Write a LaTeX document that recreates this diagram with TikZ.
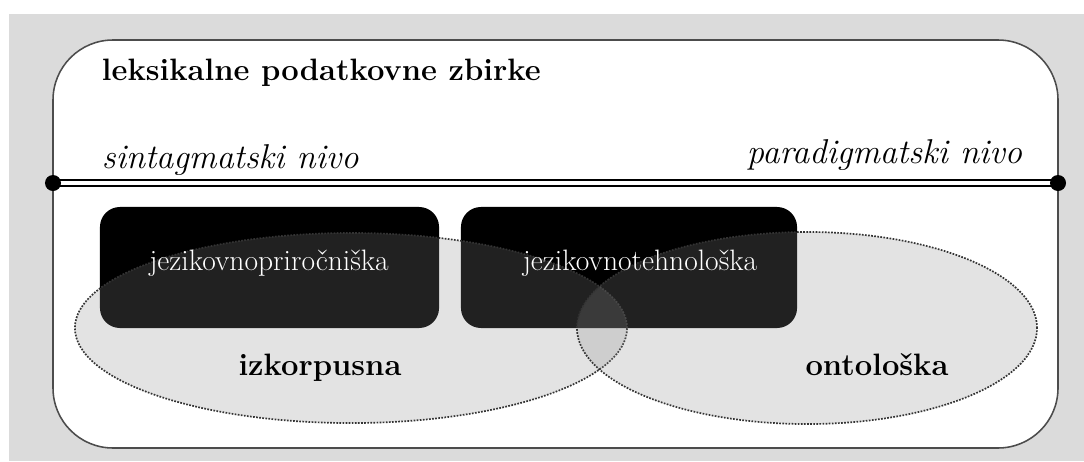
\documentclass[tikz,border=0pt]{standalone}
\usepackage{fontspec}
\usepackage{tikz}
\usetikzlibrary{shapes,positioning,calc}

\begin{document}
\begin{tikzpicture}[x=0.025cm,y=-0.025cm,
  frame/.style={draw=black!70,line width=1.1pt,fill=white,rounded corners=1.5cm},
  blackbox/.style={fill=black,rounded corners=0.5cm,minimum height=3.025cm,inner sep=0pt},
  boxtext/.style={text=white,font=\fontsize{21}{24}\selectfont,anchor=base},
  field/.style={ellipse,draw=black!80,densely dotted,line width=1.2pt,
    fill=black!45,fill opacity=0.24,draw opacity=1},
  head/.style={font=\fontsize{22}{26}\selectfont\bfseries},
  level/.style={font=\fontsize{24.5}{28}\selectfont\itshape}]
\useasboundingbox (0,0) rectangle (1084,461);
\fill[black!14] (9,14) rectangle (1084,461);
\draw[frame] (53,40) rectangle (1058,448);
% levels
\coordinate (synt) at (53,183);
\coordinate (para) at (1058,183);
\draw[double,line width=1.3pt,double distance=2.8pt] (synt) -- (para);
\fill (synt) circle (0.2cm);
\fill (para) circle (0.2cm);
\node[head,anchor=base west] (title) at (97,80) {leksikalne podatkovne zbirke};
\node[level,anchor=base west] (sintag) at (97,168) {sintagmatski nivo};
\node[level,anchor=base east] (paradig) at (1027,163) {paradigmatski nivo};
% kinds of collections
\node[blackbox,minimum width=8.475cm] (prir) at (269.5,267.5) {};
\node[blackbox,minimum width=8.4cm] (teh) at (629,267.5) {};
\node[field,minimum width=13.8cm,minimum height=4.75cm] (korp) at (351,328) {};
\node[field,minimum width=11.5cm,minimum height=4.8cm] (onto) at (807,328) {};
\node[boxtext] (prirlab) at (269,270) {jezikovnopriročniška};
\node[boxtext] (tehlab) at (640,270) {jezikovnotehnološka};
\node[head,anchor=base] (korplab) at (320,375) {izkorpusna};
\node[head,anchor=base] (ontolab) at (877,375) {ontološka};
\end{tikzpicture}
\end{document}
